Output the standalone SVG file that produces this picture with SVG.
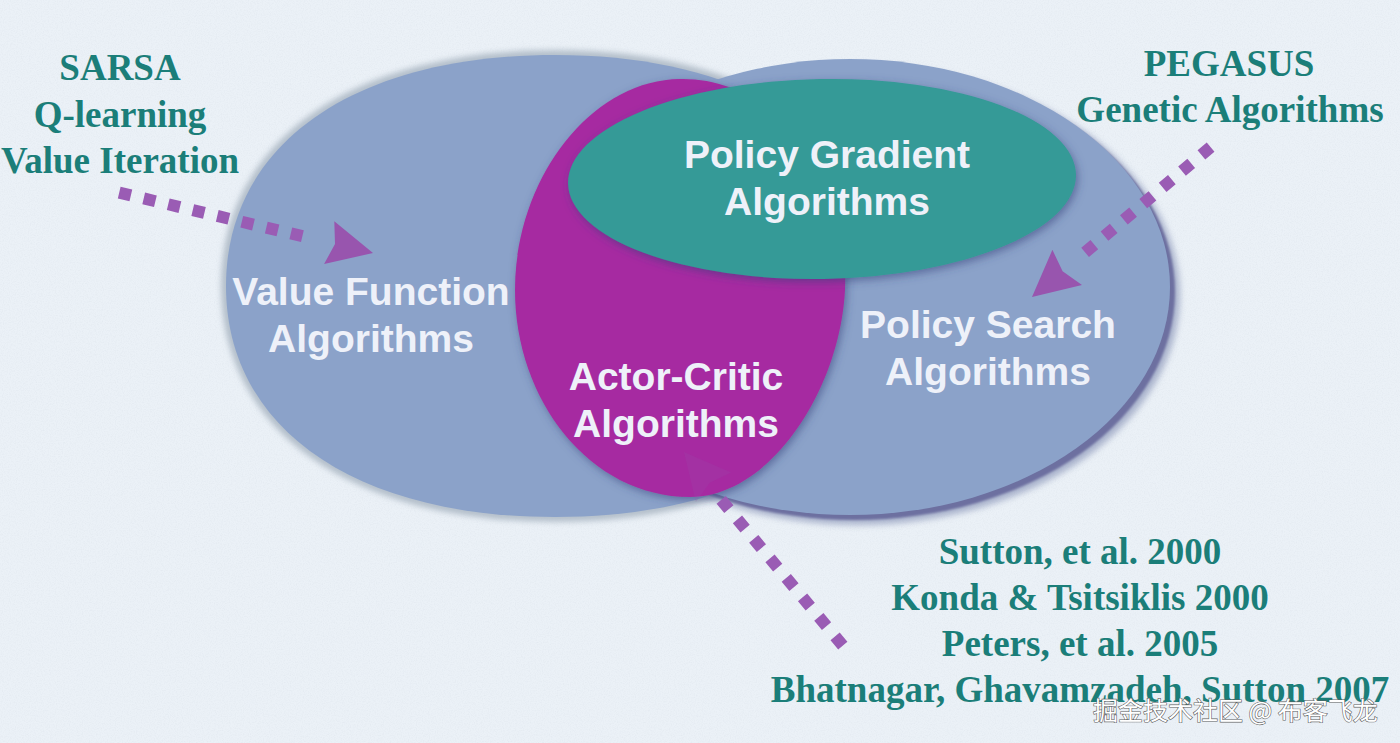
<svg xmlns="http://www.w3.org/2000/svg" width="1400" height="743" viewBox="0 0 1400 743">
<defs>
<style>
.ser{font-family:"Liberation Serif","Times New Roman",serif;font-weight:bold;font-size:37px;fill:#1b7e79;text-anchor:middle}
.lab{font-family:"Liberation Sans",Arial,sans-serif;font-weight:bold;font-size:39px;fill:#eef1f9;text-anchor:middle}
.wm{font-family:"Noto Sans CJK SC","Liberation Sans",sans-serif;font-size:25px;fill:#ffffff;stroke:#5e5e5e;stroke-width:1.2px;paint-order:stroke}
.dash{fill:none;stroke:#9a5cb4;stroke-width:12}
.head{fill:#9855ae}
.blue{fill:#8ba2c9}
</style>
<filter id="paper" x="0" y="0" width="100%" height="100%">
<feTurbulence type="fractalNoise" baseFrequency="0.85" numOctaves="2" seed="4"/>
<feColorMatrix type="matrix" values="0 0 0 0 0.5  0 0 0 0 0.55  0 0 0 0 0.62  0.3 0 0 0 -0.12"/>
</filter>
<filter id="sh" x="-10%" y="-10%" width="120%" height="120%">
<feGaussianBlur in="SourceAlpha" stdDeviation="4" result="b"/>
<feOffset in="b" dx="2" dy="3" result="o"/>
<feFlood flood-color="#34407a" flood-opacity="0.55"/>
<feComposite in2="o" operator="in" result="s"/>
<feMerge><feMergeNode in="s"/><feMergeNode in="SourceGraphic"/></feMerge>
</filter>
<filter id="halo" x="-10%" y="-10%" width="120%" height="120%">
<feGaussianBlur stdDeviation="3"/>
</filter>
<filter id="rim" x="-10%" y="-10%" width="120%" height="120%">
<feGaussianBlur stdDeviation="1.2"/>
</filter>
</defs>

<rect width="1400" height="743" fill="#ebf1f7"/>
<rect width="1400" height="743" filter="url(#paper)"/>

<g id="node-value-function">
<path d="M 884 286 C 884 427.6 756.7 517 555 517 C 353.3 517 226 427.6 226 286 C 226 144.4 353.3 55 555 55 C 756.7 55 884 144.4 884 286 Z" fill="none" stroke="#aebac6" stroke-width="9" filter="url(#halo)"/>
<path class="blue" d="M 884 286 C 884 427.6 756.7 517 555 517 C 353.3 517 226 427.6 226 286 C 226 144.4 353.3 55 555 55 C 756.7 55 884 144.4 884 286 Z"/>
</g>

<g id="node-policy-search">
<ellipse cx="858" cy="295" rx="322" ry="230" fill="#9aa4c2" opacity="0.8" filter="url(#halo)"/>
<ellipse cx="855" cy="292" rx="320" ry="228" fill="#6d70a0" filter="url(#rim)"/>
<ellipse class="blue" cx="850" cy="287" rx="320" ry="228"/>
</g>

<g id="node-actor-critic" filter="url(#sh)">
<path d="M 680 79 C 760 77 850 150 845 290 C 840 390 770 497 690 497 C 590 497 515 400 515 290 C 515 180 590 80 680 79 Z" fill="#a62aa1"/>
</g>

<g id="node-policy-gradient" filter="url(#sh)">
<ellipse cx="822" cy="179" rx="254" ry="100" fill="#349a97" transform="rotate(-1 822 179)"/>
</g>

<g id="labels-nodes">
<text class="lab" x="371" y="305">Value Function</text>
<text class="lab" x="371" y="352">Algorithms</text>
<text class="lab" x="827" y="168">Policy Gradient</text>
<text class="lab" x="827" y="215">Algorithms</text>
<text class="lab" x="676" y="390">Actor-Critic</text>
<text class="lab" x="676" y="437">Algorithms</text>
<text class="lab" x="988" y="338">Policy Search</text>
<text class="lab" x="988" y="385">Algorithms</text>
</g>

<g id="label-value-methods">
<text class="ser" x="120" y="80">SARSA</text>
<text class="ser" x="120" y="127">Q-learning</text>
<text class="ser" x="120" y="173">Value Iteration</text>
</g>

<g id="label-search-methods">
<text class="ser" x="1229" y="76">PEGASUS</text>
<text class="ser" x="1230" y="122">Genetic Algorithms</text>
</g>

<g id="label-references">
<text class="ser" x="1080" y="564">Sutton, et al. 2000</text>
<text class="ser" x="1080" y="610">Konda &amp; Tsitsiklis 2000</text>
<text class="ser" x="1080" y="656">Peters, et al. 2005</text>
<text class="ser" x="1080" y="702">Bhatnagar, Ghavamzadeh, Sutton 2007</text>
</g>

<g id="connectors">
<line class="dash" x1="119.2" y1="192.6" x2="302.4" y2="236.2" stroke-dasharray="12 13.2"/>
<polygon class="head" points="373,253 324.1,264 335,244 334.3,221.2"/>
<line class="dash" x1="1210.6" y1="147.1" x2="1085.1" y2="252.4" stroke-dasharray="12 13.3"/>
<polygon class="head" points="1032,297 1052.4,249.8 1062.6,271.3 1082,285"/>
<polygon class="head" points="684,452 731.2,472.6 709.7,482.7 695.8,502" opacity="0.18"/>
<line class="dash" x1="842.8" y1="645.6" x2="721.1" y2="499.8" stroke-dasharray="12 13.4"/>
</g>

<text class="wm" x="1093" y="720">掘金技术社区 @ 布客飞龙</text>
</svg>
